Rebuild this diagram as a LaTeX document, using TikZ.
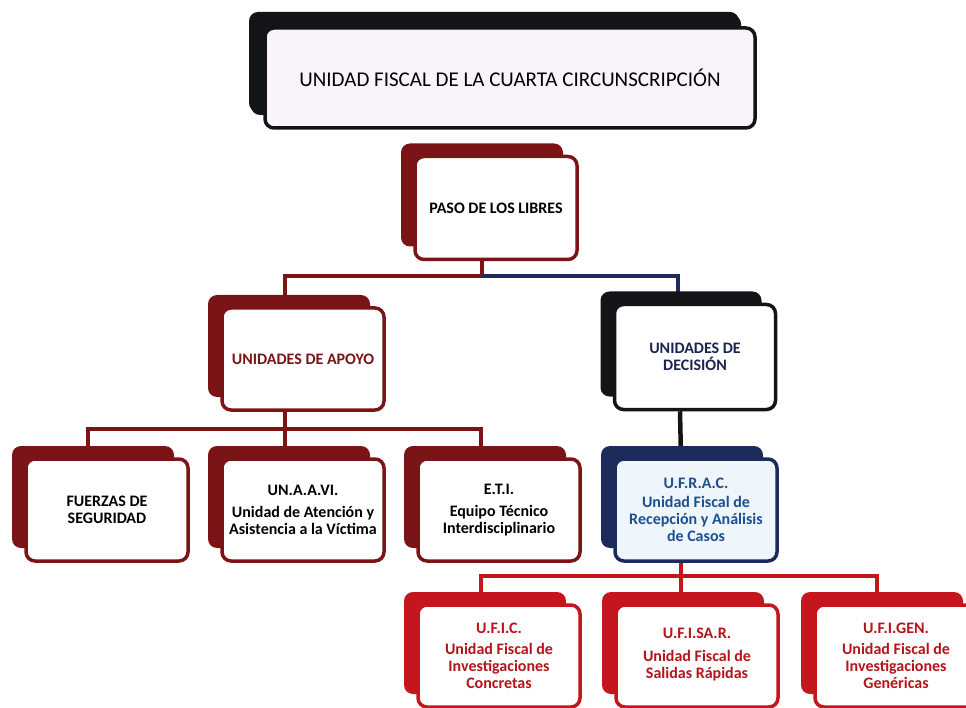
\documentclass[tikz,border=0pt]{standalone}
\usepackage{fontspec}
\setmainfont{Carlito}
\usetikzlibrary{shadows,backgrounds}
\definecolor{cMaroon}{HTML}{7B1416}
\definecolor{cBlack}{HTML}{141418}
\definecolor{cNavy}{HTML}{1C2A5C}
\definecolor{cRed}{HTML}{C4161C}
\definecolor{cTitleFill}{HTML}{FBF3FA}
\definecolor{cBlueFill}{HTML}{EEF5FB}
\definecolor{cBlueText}{HTML}{1D4F91}
\definecolor{cNavyText}{HTML}{1A2550}
\definecolor{cRedText}{HTML}{B5141A}
\tikzset{
  orgbox/.style 2 args={draw=#1, line width=3.5pt, rounded corners=9pt, fill=#2,
    minimum width=162pt, minimum height=102pt, align=center, inner sep=1pt,
    font=\bfseries\fontsize{16}{17}\selectfont,
    drop shadow={shadow xshift=-14pt, shadow yshift=13pt, fill=#1, opacity=1}},
  conn/.style={draw=#1, line width=4.5pt},
}
\begin{document}
\begin{tikzpicture}[x=1pt,y=1pt]
\useasboundingbox (0,0) rectangle (966,-708);
% title
\node[orgbox={cBlack}{cTitleFill}, minimum width=490pt, minimum height=100pt,
  drop shadow={shadow xshift=-16pt, shadow yshift=16pt, fill=cBlack, opacity=1},
  font=\fontsize{21}{24}\selectfont] (title) at (510,-78) {UNIDAD FISCAL DE LA CUARTA CIRCUNSCRIPCIÓN};
% level 1
\node[orgbox={cMaroon}{white}, minimum height=103pt] (paso) at (496,-208) {PASO DE LOS LIBRES};
% level 2
\node[orgbox={cMaroon}{white}, text=cMaroon] (apoyo) at (303,-359) {UNIDADES DE APOYO};
\node[orgbox={cBlack}{white}, minimum width=161pt, minimum height=105pt, text=cNavyText] (decision) at (695,-357) {UNIDADES DE\\DECISIÓN};
% level 3
\node[orgbox={cMaroon}{white}] (fuerzas) at (107,-510) {FUERZAS DE\\SEGURIDAD};
\node[orgbox={cMaroon}{white}] (unaavi) at (303,-510) {UN.A.A.VI.\\[5pt]Unidad de Atención y\\Asistencia a la Víctima};
\node[orgbox={cMaroon}{white}] (eti) at (499,-510) {E.T.I.\\[5pt]Equipo Técnico\\Interdisciplinario};
\node[orgbox={cNavy}{cBlueFill}, text=cBlueText] (ufrac) at (696,-510) {U.F.R.A.C.\\[2pt]Unidad Fiscal de\\Recepción y Análisis\\de Casos};
% level 4
\node[orgbox={cRed}{white}, text=cRedText] (ufic) at (499,-656) {U.F.I.C.\\[4pt]Unidad Fiscal de\\Investigaciones\\Concretas};
\node[orgbox={cRed}{white}, text=cRedText] (ufisar) at (697,-656) {\mbox{}\\[-9pt]U.F.I.SA.R.\\[6pt]Unidad Fiscal de\\Salidas Rápidas};
\node[orgbox={cRed}{white}, text=cRedText] (ufigen) at (896,-656) {U.F.I.GEN.\\[4pt]Unidad Fiscal de\\Investigaciones\\Genéricas};
% connectors
\begin{scope}[on background layer]
  \coordinate (j1) at (482,-276);
  \draw[conn=cMaroon] ([xshift=-14pt]paso.south) -- (j1);
  \draw[conn=cMaroon] (j1) -| ([xshift=-18pt]apoyo.north);
  \draw[conn=cNavy] (j1) -| ([xshift=-17pt]decision.north);
  \coordinate (j2) at (285,-429);
  \draw[conn=cMaroon] ([xshift=-18pt]apoyo.south) -- (j2);
  \draw[conn=cMaroon] (j2) -| ([xshift=-19pt]fuerzas.north);
  \draw[conn=cMaroon] (j2) -- ([xshift=-18pt]unaavi.north);
  \draw[conn=cMaroon] (j2) -| ([xshift=-18pt]eti.north);
  \draw[conn=cBlack] ([xshift=-15pt]decision.south) -- ([xshift=-15pt]ufrac.north);
  \coordinate (j3) at (681,-576);
  \draw[conn=cRed] ([xshift=-15pt]ufrac.south) -- (j3);
  \draw[conn=cRed] (j3) -| ([xshift=-18pt]ufic.north);
  \draw[conn=cRed] (j3) -- ([xshift=-16pt]ufisar.north);
  \draw[conn=cRed] (j3) -| ([xshift=-19pt]ufigen.north);
\end{scope}
\end{tikzpicture}
\end{document}
